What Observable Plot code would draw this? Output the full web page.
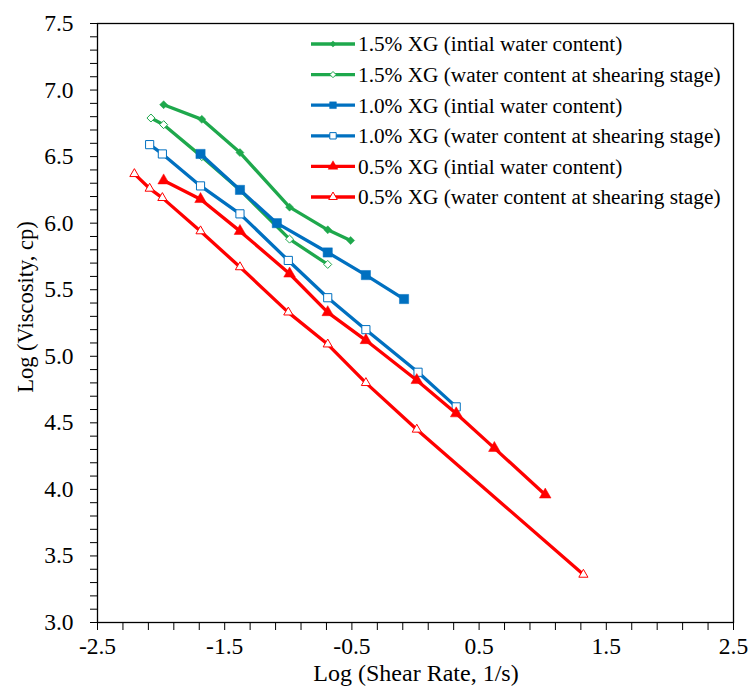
<!DOCTYPE html>
<html>
<head>
<meta charset="utf-8">
<script src="https://cdn.jsdelivr.net/npm/d3@7"></script>
<script src="https://cdn.jsdelivr.net/npm/@observablehq/plot@0.6"></script>
<style>
  html, body { margin: 0; padding: 0; background: #fff; }
  #chart { position: relative; width: 750px; height: 686px; overflow: hidden; }
</style>
</head>
<body>
<div id="chart"></div>
<script>
// ---- Data ----
const seriesNames = [
  "1.5% XG (intial water content)",
  "1.5% XG (water content at shearing stage)",
  "1.0% XG (intial water content)",
  "1.0% XG (water content at shearing stage)",
  "0.5% XG (intial water content)",
  "0.5% XG (water content at shearing stage)"
];
const xg15InitialX = [-1.98, -1.68, -1.38, -0.99, -0.69, -0.51];
const xg15InitialY = [6.89, 6.78, 6.53, 6.12, 5.95, 5.87];
const xg15ShearX = [-2.08, -1.98, -1.68, -1.38, -0.99, -0.69];
const xg15ShearY = [6.79, 6.74, 6.50, 6.25, 5.88, 5.69];
const xg10InitialX = [-1.69, -1.38, -1.09, -0.69, -0.39, -0.09];
const xg10InitialY = [6.52, 6.25, 6.00, 5.78, 5.61, 5.43];
const xg10ShearX = [-2.09, -1.99, -1.69, -1.38, -1.00, -0.69, -0.39, 0.02, 0.32];
const xg10ShearY = [6.59, 6.52, 6.28, 6.07, 5.72, 5.44, 5.20, 4.88, 4.62];
const xg05InitialX = [-1.98, -1.69, -1.38, -0.99, -0.69, -0.39, 0.01, 0.32, 0.62, 1.02];
const xg05InitialY = [6.32, 6.18, 5.94, 5.62, 5.33, 5.12, 4.82, 4.57, 4.31, 3.96];
const xg05ShearX = [-2.21, -2.09, -1.99, -1.69, -1.38, -1.00, -0.69, -0.39, 0.01, 1.32];
const xg05ShearY = [6.37, 6.26, 6.19, 5.94, 5.67, 5.33, 5.09, 4.80, 4.45, 3.36];

const xMajorTicks = [-2.5, -1.5, -0.5, 0.5, 1.5, 2.5];
const yMajorTicks = [3.0, 3.5, 4.0, 4.5, 5.0, 5.5, 6.0, 6.5, 7.0, 7.5];
const xTitle = "Log (Shear Rate, 1/s)";
const yTitle = "Log (Viscosity, cp)";

// ---- Styles (separate from data) ----
const GREEN = "#1ea84c", BLUE = "#0070c0", RED = "#ff0000";
const styles = [
  {color: GREEN, symbol: "diamond2", r: 3.6, open: false, lr: 2.8},
  {color: GREEN, symbol: "diamond2", r: 3.6, open: true,  lr: 2.8},
  {color: BLUE,  symbol: "square",   r: 5.2, open: false, lr: 3.8},
  {color: BLUE,  symbol: "square",   r: 4.6, open: true,  lr: 3.6},
  {color: RED,   symbol: "triangle", r: 4.3, open: false, lr: 3.6},
  {color: RED,   symbol: "triangle", r: 3.4, open: true,  lr: 3.2}
];

const seriesXY = [
  [xg15InitialX, xg15InitialY],
  [xg15ShearX, xg15ShearY],
  [xg10InitialX, xg10InitialY],
  [xg10ShearX, xg10ShearY],
  [xg05InitialX, xg05InitialY],
  [xg05ShearX, xg05ShearY]
];
const tables = seriesXY.map(([xs, ys], i) =>
  xs.map((x, j) => ({series: seriesNames[i], x, y: ys[j]})));

const xMinor = d3.range(0, 26).map(i => +(-2.5 + i * 0.2).toFixed(1));
const yMinor = d3.range(0, 46).map(i => +(3 + i * 0.1).toFixed(1));

const FONT = "'Liberation Serif', 'Times New Roman', serif";
const TICK_FS = 23.5;

const marks = [];
tables.forEach((rows, i) => {
  const s = styles[i];
  marks.push(Plot.line(rows, {x: "x", y: "y", stroke: s.color, strokeWidth: 3.3}));
  marks.push(Plot.dot(rows, {
    x: "x", y: "y", symbol: () => s.symbol, r: s.r,
    fill: s.open ? "white" : s.color,
    stroke: s.color, strokeWidth: s.open ? 1 : 0.5
  }));
});
marks.push(Plot.frame({stroke: "black", strokeWidth: 1.3}));

const svg = Plot.plot({
  width: 750,
  height: 686,
  marginLeft: 97,
  marginRight: 17,
  marginTop: 23,
  marginBottom: 64,
  style: {fontFamily: FONT, fontSize: TICK_FS + "px", color: "black", background: "white"},
  symbol: {type: "identity"},
  x: {
    domain: [-2.5, 2.5], ticks: xMinor, tickSize: 8, tickPadding: 7, label: null,
    tickFormat: d => xMajorTicks.includes(d) ? d.toFixed(1) : ""
  },
  y: {
    domain: [3, 7.5], ticks: yMinor, tickSize: 7, tickPadding: 17, label: null,
    tickFormat: d => yMajorTicks.includes(d) ? d.toFixed(1) : ""
  },
  marks
});
document.getElementById("chart").appendChild(svg);

const root = d3.select(svg);
// axis tick labels (all texts drawn by Plot so far are tick labels)
root.selectAll("g").filter(function () { return this.getAttribute("font-size"); })
  .attr("font-size", TICK_FS);
root.selectAll("text")
  .attr("font-size", TICK_FS)
  .style("font-size", TICK_FS + "px")
  .style("font-family", FONT);

// ---- Axis titles and legend appended as SVG text ----
root.append("text")
  .attr("x", 416).attr("y", 680.5)
  .attr("text-anchor", "middle")
  .style("font-family", FONT).style("font-size", "24px").attr("fill", "black")
  .text(xTitle);
root.append("text")
  .attr("transform", "translate(33,307) rotate(-90)")
  .attr("text-anchor", "middle")
  .style("font-family", FONT).style("font-size", "22.5px").attr("fill", "black")
  .text(yTitle);

const symbolMap = {diamond2: d3.symbolDiamond2, square: d3.symbolSquare, triangle: d3.symbolTriangle};
const legend = root.append("g").attr("text-anchor", "start");
seriesNames.forEach((name, i) => {
  const s = styles[i];
  const cy = 44 + i * 30.6;
  const g = legend.append("g").attr("transform", `translate(0,${cy})`);
  g.append("line").attr("x1", 311).attr("x2", 355).attr("y1", 0).attr("y2", 0)
    .attr("stroke", s.color).attr("stroke-width", 3.3);
  g.append("path")
    .attr("transform", "translate(333,0)")
    .attr("d", d3.symbol(symbolMap[s.symbol], Math.PI * s.lr * s.lr)())
    .attr("fill", s.open ? "white" : s.color)
    .attr("stroke", s.color).attr("stroke-width", s.open ? 1 : 0.5);
  g.append("text").attr("x", 358).attr("y", 0).attr("dy", "0.35em")
    .attr("text-anchor", "start")
    .style("font-family", FONT).style("font-size", "21.3px").attr("fill", "black")
    .text(name);
});
</script>
</body>
</html>
